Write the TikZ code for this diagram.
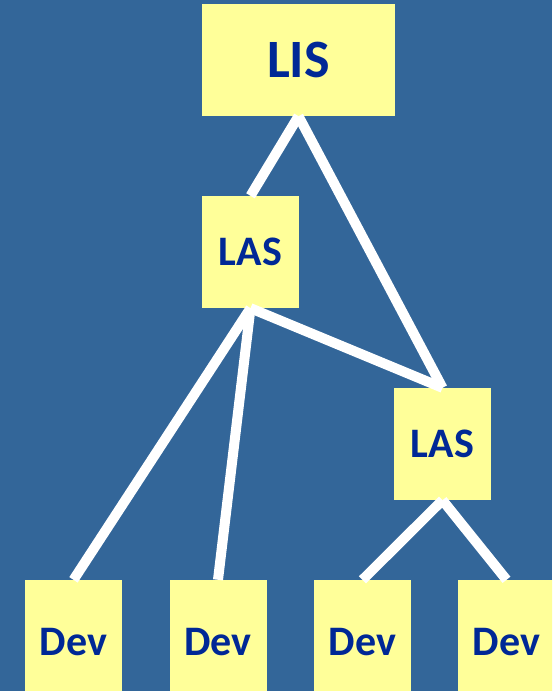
\documentclass[tikz,border=0pt]{standalone}
\usepackage{fontspec}
\setmainfont{Carlito}
\usetikzlibrary{positioning}
\definecolor{bgblue}{RGB}{51,102,153}
\definecolor{boxyellow}{RGB}{255,255,153}
\definecolor{txtblue}{RGB}{0,40,150}

\begin{document}
\begin{tikzpicture}[x=1pt, y=-1pt,
		unit/.style = {fill=boxyellow, inner sep=0pt, minimum width=97pt, minimum height=112pt,
			text=txtblue, font=\fontsize{42}{42}\selectfont\bfseries},
		leaf/.style = {unit, minimum height=124pt},
		link/.style = {white, line width=10pt}]
		\fill [bgblue] (0,0) rectangle (552,691);
		\useasboundingbox (0,0) rectangle (552,691);
		\clip (0,0) rectangle (552,691);
		% the nodes
		\node [unit, minimum width=193pt, font=\fontsize{54}{54}\selectfont\bfseries] (lis) at (298.5,60) {LIS};
		\node [unit] (las1) at (250.5,252) {LAS};
		\node [unit] (las2) at (442.5,444) {LAS};
		\node [leaf] (dev1) at (73.5,642) {Dev};
		\node [leaf] (dev2) at (218,642) {Dev};
		\node [leaf] (dev3) at (362.5,642) {Dev};
		\node [leaf] (dev4) at (506.5,642) {Dev};
		% the links
		\draw [link] (lis.south) -- (las1.north);
		\draw [link] (lis.south) -- (las2.north);
		\draw [link] (las1.south) -- (las2.north);
		\draw [link] (las1.south) -- (dev1.north);
		\draw [link] (las1.south) -- (dev2.north);
		\draw [link] (las2.south) -- (dev3.north);
		\draw [link] (las2.south) -- (dev4.north);
	\end{tikzpicture}
\end{document}
